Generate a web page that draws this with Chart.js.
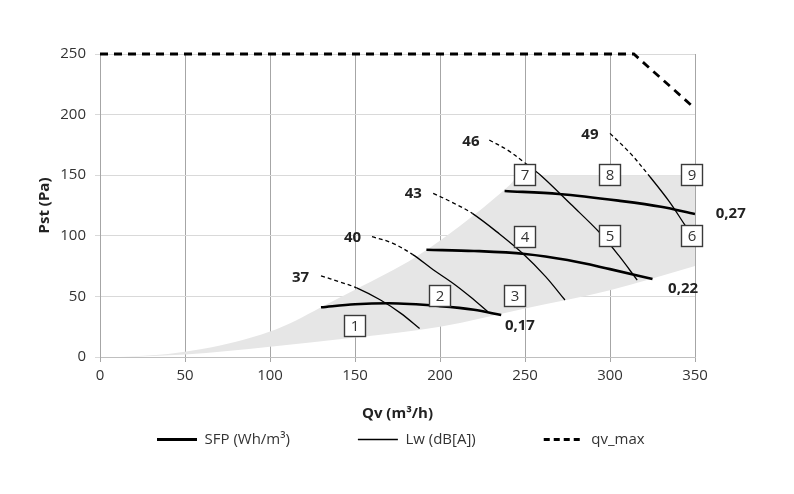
<!DOCTYPE html>
<html>
<head>
<meta charset="utf-8">
<script src="https://cdn.jsdelivr.net/npm/chart.js@4.4.0/dist/chart.umd.min.js"></script>
<style>
  html, body { margin: 0; padding: 0; background: #fff; }
  #wrap { width: 794px; height: 494px; }
</style>
</head>
<body>
<div id="wrap"><canvas id="chart" width="794" height="494"></canvas></div>
<script>
// Axes
const xMin = 0, xMax = 350, xStep = 50;
const yMin = 0, yMax = 250, yStep = 50;

// Working zone (grey area)
const zoneUpperX = [12, 40, 60, 80, 100, 115, 130, 150, 186, 220, 241, 247, 350];
const zoneUpperY = [0, 2.5, 6.5, 12.5, 21, 30, 41, 55.5, 82.8, 117.2, 142, 150, 150];
const zoneLowerX = [12, 50, 100, 150, 200, 250, 300, 350];
const zoneLowerY = [0, 2, 8.5, 16, 25, 40, 55, 75];

// qv_max
const qvMaxX = [0, 314, 350];
const qvMaxY = [250, 250, 205];

// SFP curves (Wh/m³)
const sfpNames = ['0,17', '0,22', '0,27'];
const sfp017X = [130, 150, 170, 200, 220, 236];
const sfp017Y = [41, 43.5, 44.3, 42, 39, 34.6];
const sfp022X = [192, 220, 250, 275, 300, 325];
const sfp022Y = [88.5, 87.5, 85, 80, 72.5, 64.4];
const sfp027X = [238, 270, 305, 330, 350];
const sfp027Y = [137, 134.5, 129, 124, 118];
const sfpLabelX = [247, 343, 371];
const sfpLabelY = [25.6, 56, 118];

// Lw curves (dB[A]) - first points are the dashed part outside the zone
const lwNames = ['37', '40', '43', '46', '49'];
const lw37X = [130, 141, 151, 165, 177, 188];
const lw37Y = [67, 62, 57, 47, 36, 23.5];
const lw40X = [160, 172, 184, 196, 208, 218, 228];
const lw40Y = [99.3, 94, 84.5, 72, 60.5, 49.5, 37.5];
const lw43X = [196, 208, 219, 235, 249, 262, 273.5];
const lw43Y = [135, 127, 118.5, 101.5, 85, 66.5, 47];
const lw46X = [229, 240, 250, 260, 277, 294, 305, 316];
const lw46Y = [179, 170.5, 160, 149, 126, 102.5, 84, 63.5];
const lw49X = [300, 312, 323.5, 335, 344, 346];
const lw49Y = [184.5, 168, 148.7, 128, 109, 105];
const lwDashedUntil = [2, 2, 2, 2, 2];
const lwLabelX = [118, 148.6, 184.3, 218.2, 288.2];
const lwLabelY = [65.6, 98.6, 134.5, 177.4, 183.6];

// Operating point boxes
const boxLabels = ['1', '2', '3', '4', '5', '6', '7', '8', '9'];
const boxX = [150, 200, 244, 250, 300, 348, 250, 300, 348];
const boxY = [25.5, 50, 50, 99, 100, 100, 150, 150, 150];

// Legend
const legendNames = ['SFP (Wh/m³)', 'Lw (dB[A])', 'qv_max'];

const FONT = "'Open Sans', sans-serif";
const TEXT = '#333333';

function pts(xs, ys) {
  return xs.map((x, i) => ({ x: x, y: ys[i] }));
}

function lwDataset(xs, ys, dashEnd) {
  return {
    data: pts(xs, ys),
    borderColor: '#000',
    borderWidth: 1.3,
    pointRadius: 0,
    tension: 0.35,
    segment: {
      borderDash: ctx => ctx.p1DataIndex <= dashEnd ? [4, 3] : []
    }
  };
}

function sfpDataset(xs, ys) {
  return {
    data: pts(xs, ys),
    borderColor: '#000',
    borderWidth: 2.6,
    pointRadius: 0,
    cubicInterpolationMode: 'monotone'
  };
}

const datasets = [
  { data: pts(qvMaxX, qvMaxY), borderColor: '#000', borderWidth: 2.8, borderDash: [8, 6], pointRadius: 0, clip: 5 },
  sfpDataset(sfp017X, sfp017Y),
  sfpDataset(sfp022X, sfp022Y),
  sfpDataset(sfp027X, sfp027Y),
  lwDataset(lw37X, lw37Y, lwDashedUntil[0]),
  lwDataset(lw40X, lw40Y, lwDashedUntil[1]),
  lwDataset(lw43X, lw43Y, lwDashedUntil[2]),
  lwDataset(lw46X, lw46Y, lwDashedUntil[3]),
  lwDataset(lw49X, lw49Y, lwDashedUntil[4]),
  { data: pts(zoneUpperX, zoneUpperY), borderWidth: 0, borderColor: 'rgba(0,0,0,0)', pointRadius: 0,
    backgroundColor: '#e6e6e6', fill: '+1', cubicInterpolationMode: 'monotone' },
  { data: pts(zoneLowerX, zoneLowerY), borderWidth: 0, borderColor: 'rgba(0,0,0,0)', pointRadius: 0,
    fill: false, cubicInterpolationMode: 'monotone' }
];

// labels drawn on top of the curves
const annotations = {
  id: 'annotations',
  afterDatasetsDraw(chart) {
    const { ctx, scales: { x, y } } = chart;
    ctx.save();
    ctx.textAlign = 'center';
    ctx.textBaseline = 'middle';
    ctx.fillStyle = '#222';
    ctx.font = 'bold 15px ' + FONT;
    lwNames.forEach((t, i) => {
      ctx.fillText(t, x.getPixelForValue(lwLabelX[i]), y.getPixelForValue(lwLabelY[i]));
    });
    sfpNames.forEach((t, i) => {
      ctx.fillText(t, x.getPixelForValue(sfpLabelX[i]), y.getPixelForValue(sfpLabelY[i]));
    });
    ctx.font = '15px ' + FONT;
    boxLabels.forEach((t, i) => {
      const px = Math.round(x.getPixelForValue(boxX[i]));
      const py = Math.round(y.getPixelForValue(boxY[i]));
      ctx.fillStyle = '#fff';
      ctx.fillRect(px - 10.5, py - 10.5, 21, 21);
      ctx.strokeStyle = '#3a3a3a';
      ctx.lineWidth = 1.4;
      ctx.strokeRect(px - 10.5, py - 10.5, 21, 21);
      ctx.fillStyle = '#333';
      ctx.fillText(t, px, py + 1);
    });
    ctx.restore();
  }
};

// put the legend row under the axis title
const legendPlacer = {
  id: 'legendPlacer',
  afterLayout(chart) {
    const lg = chart.legend;
    const pad = lg.options.labels.padding;
    lg.left = 157 - pad;
    lg.right = 794;
    lg.top = 432 - pad;
  }
};

new Chart(document.getElementById('chart'), {
  type: 'line',
  data: { datasets: datasets },
  options: {
    responsive: false,
    animation: false,
    devicePixelRatio: 1,
    events: [],
    layout: { padding: { top: 54, right: 99, bottom: 47, left: 0 } },
    scales: {
      x: {
        type: 'linear',
        min: xMin, max: xMax,
        ticks: { stepSize: xStep, color: TEXT, font: { family: FONT, size: 15 }, padding: 5 },
        grid: { color: '#a6a6a6', tickLength: 5 },
        border: { color: '#bfbfbf' },
        title: { display: true, text: 'Qv (m³/h)', color: '#222', font: { family: FONT, size: 15, weight: 'bold' }, padding: { top: 0, bottom: 4 } },
        afterFit(scale) { scale.height = 70; }
      },
      y: {
        type: 'linear',
        min: yMin, max: yMax,
        ticks: { stepSize: yStep, color: TEXT, font: { family: FONT, size: 15 }, padding: 9 },
        grid: { color: '#d9d9d9', tickLength: 5 },
        border: { color: '#a6a6a6' },
        title: { display: true, text: 'Pst (Pa)', color: '#222', font: { family: FONT, size: 15, weight: 'bold' }, padding: { top: 36, bottom: 0 } },
        afterFit(scale) { scale.width = 100; }
      }
    },
    plugins: {
      tooltip: { enabled: false },
      legend: {
        position: 'bottom',
        align: 'start',
        maxHeight: 20,
        labels: {
          padding: 68,
          usePointStyle: true,
          pointStyleWidth: 40,
          color: TEXT,
          font: { family: FONT, size: 15 },
          generateLabels: () => legendNames.map((t, i) => ({
            text: t,
            fontColor: TEXT,
            fillStyle: '#000',
            strokeStyle: '#000',
            lineWidth: [3, 1.3, 3][i],
            lineDash: [[], [], [6, 4]][i],
            pointStyle: 'line',
            hidden: false,
            datasetIndex: i
          }))
        }
      }
    }
  },
  plugins: [annotations, legendPlacer]
});
</script>
</body>
</html>
